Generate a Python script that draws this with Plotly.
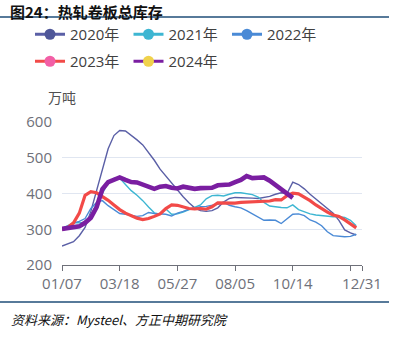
import plotly.graph_objects as go

# Weekly hot-rolled coil total inventory (10k tonnes), one list per year
v2020 = [253, 258, 265, 282, 305, 350, 410, 470, 525, 562, 576, 575, 563, 550, 536, 516, 493, 468,
         448, 430, 410, 391, 374, 360, 352, 350, 352, 360, 376, 386, 389, 389, 388, 387, 386, 388,
         392, 398, 402, 400, 432, 425, 413, 398, 385, 370, 357, 345, 325, 298, 290, 284]
v2021 = [302, 310, 318, 318, 320, 340, 370, 400, 430, 442, 443, 425, 408, 395, 380, 362, 346, 342,
         357, 342, 343, 348, 354, 360, 368, 385, 394, 395, 393, 398, 402, 402, 400, 397, 390, 375,
         365, 362, 361, 360, 368, 355, 348, 343, 340, 338, 336, 335, 335, 333, 325, 310]
v2022 = [300, 305, 318, 322, 330, 358, 375, 380, 366, 355, 344, 342, 340, 336, 338, 347, 344, 343,
         342, 337, 345, 350, 356, 359, 363, 364, 366, 370, 376, 367, 363, 360, 352, 343, 335, 325,
         326, 325, 316, 330, 342, 343, 338, 326, 320, 310, 293, 282, 280, 279, 280, 286]
v2023 = [299, 305, 318, 345, 395, 405, 402, 392, 381, 368, 355, 345, 337, 331, 327, 330, 336, 343,
         358, 368, 367, 362, 358, 357, 358, 356, 363, 374, 374, 372, 373, 375, 376, 378, 378, 378,
         379, 383, 382, 394, 401, 399, 390, 380, 368, 357, 348, 340, 336, 326, 316, 304]
v2024 = [301, 303, 305, 308, 318, 332, 362, 412, 432, 440, 445, 438, 432, 431, 424, 420, 413, 419,
         421, 416, 414, 419, 415, 413, 415, 414, 416, 423, 424, 425, 432, 438, 449, 443, 444, 445,
         436, 424, 410, 396, 388]

tick_pos = [0, 10, 20, 30, 40, 50, 52]
tick_text = ["01/07", "03/18", "05/27", "08/05", "10/14", "", "12/31"]

series = [
    ("2020年", v2020, "#5a5fa6", "#4f5799", 1.4, "legend"),
    ("2021年", v2021, "#3db6d2", "#3db6d2", 1.4, "legend"),
    ("2022年", v2022, "#4a8ad6", "#4a8ad6", 1.4, "legend"),
    ("2023年", v2023, "#f24a48", "#f25fa6", 3.2, "legend2"),
    ("2024年", v2024, "#7a1ea1", "#f0d24c", 4.6, "legend2"),
]

W, H = 395, 341
L, R, T, B = 62, 33, 122, 76


def fx(px):
    return (px - L) / (W - L - R)


def fy(py):
    return (H - B - py) / (H - T - B)


fig = go.Figure()
for name, vals, lc, mc, lw, lg in series:
    fig.add_trace(go.Scatter(
        x=list(range(len(vals))), y=vals, mode="lines", name=name,
        line=dict(color=lc, width=lw), showlegend=False, hoverinfo="skip"))
# legend entries: coloured dot on a short line
for name, vals, lc, mc, lw, lg in series:
    fig.add_trace(go.Scatter(
        x=[None], y=[None], mode="lines+markers", name=name, legend=lg,
        line=dict(color=lc, width=3), marker=dict(color=mc, size=11)))

txt_font = "Open Sans, Noto Sans CJK SC, sans-serif"
cjk_font = "Noto Sans CJK SC, sans-serif"

legend_common = dict(orientation="h", xanchor="left", yanchor="top",
                     entrywidth=53.5, entrywidthmode="pixels",
                     font=dict(family=txt_font, size=15, color="#404040"),
                     bgcolor="rgba(0,0,0,0)", borderwidth=0)

fig.update_layout(
    width=W, height=H,
    margin=dict(l=L, r=R, t=T, b=B, pad=0),
    paper_bgcolor="white", plot_bgcolor="white",
    legend=dict(x=fx(30), y=fy(18), **legend_common),
    legend2=dict(x=fx(30), y=fy(45), **legend_common),
    xaxis=dict(range=[0, 52], tickvals=tick_pos, ticktext=tick_text,
               showgrid=False, zeroline=False, showline=True, linecolor="#6e7079",
               linewidth=1, ticks="outside", ticklen=5, tickcolor="#6e7079",
               tickfont=dict(family=txt_font, size=15, color="#6e7079")),
    yaxis=dict(range=[200, 600], tickvals=[200, 300, 400, 500, 600],
               showgrid=True, gridcolor="#e0e6f1", gridwidth=1.2, zeroline=False,
               showline=False, ticks="", ticklabelstandoff=9,
               tickfont=dict(family=txt_font, size=15, color="#6e7079")),
    showlegend=True,
)

# header and footer rules
for py in (17, 302):
    fig.add_shape(type="line", xref="paper", yref="paper",
                  x0=fx(0), x1=fx(389), y0=fy(py), y1=fy(py),
                  line=dict(color="#1f4e79", width=1.5))

fig.add_annotation(text="<b>图24：热轧卷板总库存</b>", xref="paper", yref="paper",
                   x=fx(9), y=fy(0), xanchor="left", yanchor="top", showarrow=False,
                   borderpad=0,
                   font=dict(family=cjk_font, size=15, color="#111111"))
fig.add_annotation(text="万吨", xref="paper", yref="paper",
                   x=fx(62), y=fy(97), xanchor="center", yanchor="middle", showarrow=False,
                   font=dict(family=cjk_font, size=14, color="#505050"))
fig.add_annotation(text="资料来源：Mysteel、方正中期研究院", xref="paper", yref="paper",
                   x=fx(9), y=fy(319), xanchor="left", yanchor="middle", showarrow=False,
                   font=dict(family=cjk_font, size=13, color="#111111", style="italic"))

fig.write_html("out.html")
